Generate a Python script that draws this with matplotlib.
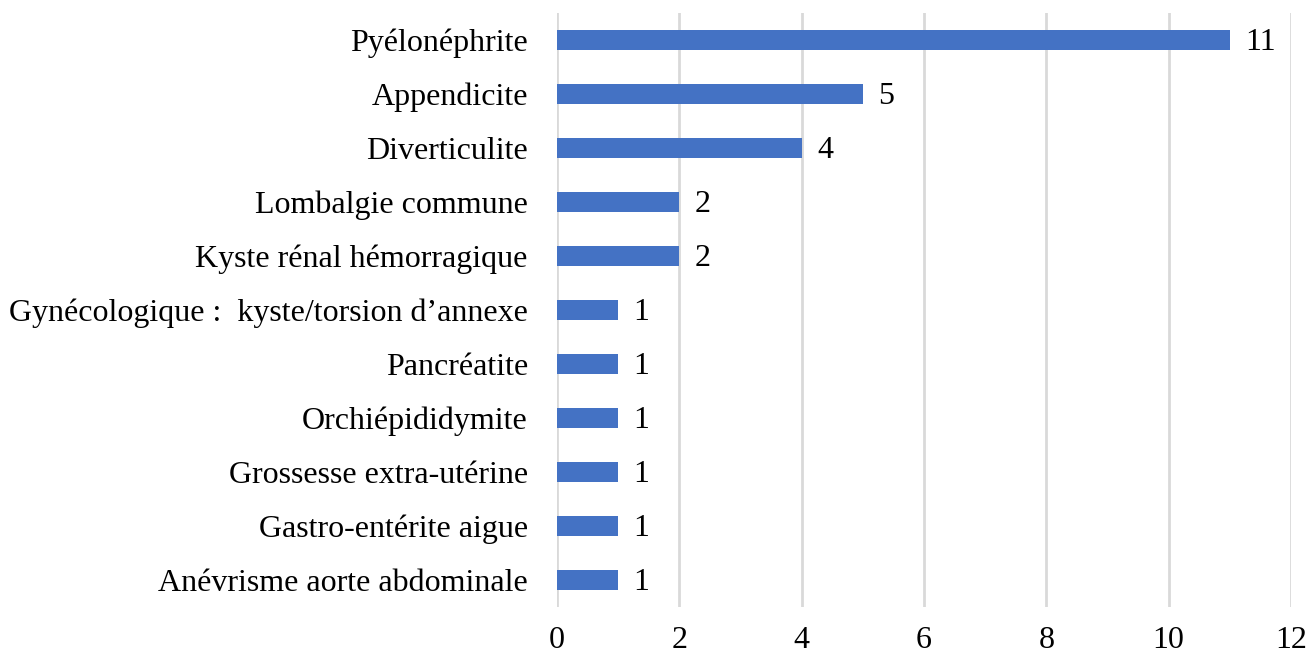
import matplotlib.pyplot as plt

# categories top to bottom, and their counts
categories = [
    "Pyélonéphrite",
    "Appendicite",
    "Diverticulite",
    "Lombalgie commune",
    "Kyste rénal hémorragique",
    "Gynécologique :  kyste/torsion d\u2019annexe",
    "Pancréatite",
    "Orchiépididymite",
    "Grossesse extra-utérine",
    "Gastro-entérite aigue",
    "Anévrisme aorte abdominale",
]
counts = [11, 5, 4, 2, 2, 1, 1, 1, 1, 1, 1]
xticks = [0, 2, 4, 6, 8, 10, 12]

plt.rcParams['font.family'] = ['Liberation Serif', 'DejaVu Serif']

fig = plt.figure(figsize=(13.11, 6.57), dpi=100)
ax = fig.add_axes([557/1311, 1 - 607/657, (1291 - 557)/1311, (607 - 13)/657])

y = list(range(len(categories)))
bars = ax.barh(y, counts, height=0.36, color='#4472c4')
for b, c in zip(bars, counts):
    ax.annotate(str(c), (b.get_width(), b.get_y() + b.get_height() / 2),
                xytext=(11, -2), textcoords='offset points',
                ha='left', va='center', fontsize=23)

ax.set_ylim(len(categories) - 0.5, -0.5)
ax.set_xlim(0, 12)
ax.set_xticks(xticks)
ax.set_xticklabels([str(t) for t in xticks], fontsize=23)
ax.set_yticks(y)
ax.set_yticklabels(categories, fontsize=23)
ax.tick_params(axis='y', length=0, pad=21)
ax.tick_params(axis='x', length=0, pad=14)

ax.grid(axis='x', color='#d9d9d9', linewidth=2)
ax.set_axisbelow(True)
for s in ax.spines.values():
    s.set_visible(False)

fig.savefig('out.png', dpi=100)
